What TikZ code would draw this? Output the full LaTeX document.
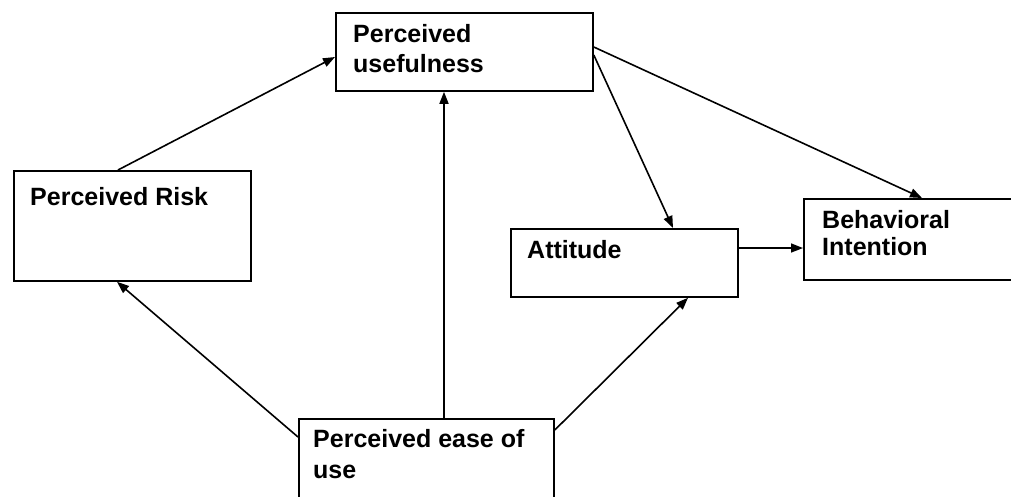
\documentclass[tikz,border=0pt]{standalone}
\usepackage{fontspec}
\setmainfont{Liberation Sans}
\usetikzlibrary{arrows.meta,calc}
\tikzset{
  box/.style={draw=black, line width=1.8pt, fill=white, rectangle, anchor=north west, inner sep=0pt},
  txt/.style={anchor=base west, inner sep=0pt, font=\fontsize{25}{30}\selectfont\bfseries, text=black},
  arr/.style={draw=black, line width=1.6pt, -{Triangle[length=12pt,width=9pt]}},
  ln/.style={draw=black, line width=1.6pt}
}
\begin{document}
\begin{tikzpicture}[x=1pt,y=-1pt]
\useasboundingbox (0,0) rectangle (1011,496);
\clip (0,0) rectangle (1011,496);
\fill[white] (0,0) rectangle (1011,496);
% boxes
\node[box, minimum width=257pt, minimum height=78pt] (pu) at (335,12) {};
\node[box, minimum width=237pt, minimum height=110pt] (pr) at (13,170) {};
\node[box, minimum width=227pt, minimum height=68pt] (att) at (510,228) {};
\node[box, minimum width=230pt, minimum height=81pt] (bi) at (803,198) {};
\node[box, minimum width=255pt, minimum height=110pt] (peu) at (298,418) {};
% texts
\node[txt] (tpu1) at (353,42) {Perceived};
\node[txt] (tpu2) at (353,72) {usefulness};
\node[txt] (tpr) at (30,205) {Perceived Risk};
\node[txt] (tatt) at (527,258) {Attitude};
\node[txt] (tbi1) at (822,228) {Behavioral};
\node[txt] (tbi2) at (822,255) {Intention};
\node[txt] (tpeu1) at (313,447) {Perceived ease of};
\node[txt] (tpeu2) at (313,478) {use};
% connectors
\draw[arr] ($(pr.north west)+(105,0)$) -- ($(pu.north west)+(0,45)$);
\draw[arr] ($(peu.north west)+(146,0)$) -- ($(pu.south west)+(109,0)$);
\draw[arr] ($(peu.north west)+(0,19)$) -- ($(pr.south west)+(104,0)$);
\draw[arr] ($(peu.north east)+(0,12)$) -- ($(att.south west)+(178,0)$);
\draw[arr] ($(pu.north east)+(0,43)$) -- ($(att.north west)+(163,0)$);
\draw[arr] ($(pu.north east)+(0,35)$) -- ($(bi.north west)+(119,0)$);
\draw[arr] ($(att.north east)+(0,20)$) -- ($(bi.north west)+(0,50)$);
\end{tikzpicture}
\end{document}
